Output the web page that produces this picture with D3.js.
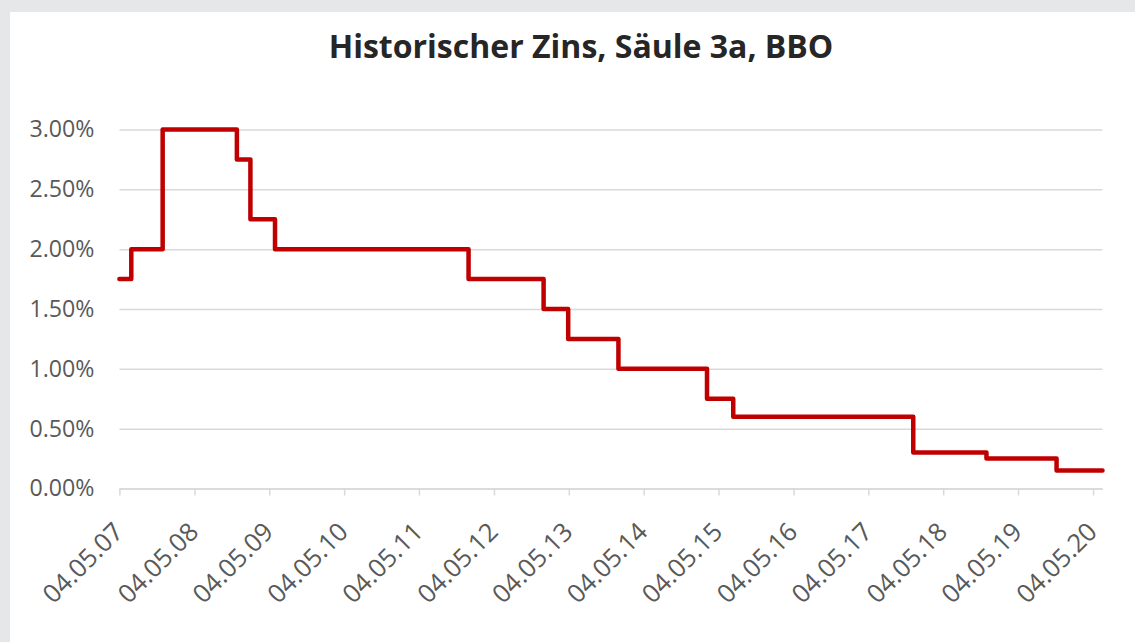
<!DOCTYPE html>
<html>
<head>
<meta charset="utf-8">
<script src="https://cdn.jsdelivr.net/npm/d3@7"></script>
<style>
  body { margin: 0; background: #e6e7e9; }
  svg { display: block; }
</style>
</head>
<body>
<svg id="chart" width="1135" height="642"></svg>
<script>
// dates where the rate changes (step after), last entry closes the line
var changeDates = [
  "2007-05-04", "2007-07-01", "2007-12-01", "2008-11-27", "2009-02-01",
  "2009-06-01", "2012-01-01", "2013-01-01", "2013-05-01", "2014-01-01",
  "2015-03-09", "2015-07-15", "2017-12-09", "2018-12-01", "2019-11-08",
  "2020-06-19"
];
// interest rate in percent
var rates = [
  1.75, 2.0, 3.0, 2.75, 2.25,
  2.0, 1.75, 1.5, 1.25, 1.0,
  0.75, 0.6, 0.3, 0.25, 0.15,
  0.15
];
// x axis tick dates (04.05. of each year)
var tickDates = [
  "2007-05-04", "2008-05-04", "2009-05-04", "2010-05-04", "2011-05-04",
  "2012-05-04", "2013-05-04", "2014-05-04", "2015-05-04", "2016-05-04",
  "2017-05-04", "2018-05-04", "2019-05-04", "2020-05-04"
];
var yTicks = [0, 0.5, 1, 1.5, 2, 2.5, 3];

var titleText = "Historischer Zins, Säule 3a, BBO";

function drawChart() {
  var parse = d3.timeParse("%Y-%m-%d");
  var data = changeDates.map(function (d, i) {
    return { date: parse(d), rate: rates[i] };
  });

  var svg = d3.select("#chart");
  var font = "'Open Sans', sans-serif";

  // white card
  svg.append("rect")
    .attr("x", 10)
    .attr("y", 12)
    .attr("width", 1125)
    .attr("height", 630)
    .attr("fill", "#ffffff");

  var plotLeft = 119.4, plotRight = 1102.5, plotTop = 129.5, plotBottom = 488.5;

  var xScale = d3.scaleTime()
    .domain([parse(changeDates[0]), parse(changeDates[changeDates.length - 1])])
    .range([plotLeft, plotRight]);

  var yScale = d3.scaleLinear()
    .domain([0, 3])
    .range([plotBottom, plotTop]);

  // title, size adjusted so it spans about the same width as the original
  var title = svg.append("text")
    .text(titleText)
    .attr("x", 581)
    .attr("y", 58)
    .attr("text-anchor", "middle")
    .attr("font-family", font)
    .attr("font-weight", "bold")
    .attr("font-size", "31px")
    .attr("fill", "#262626");
  var tw = title.node().getComputedTextLength();
  title.attr("font-size", (31 * 505 / tw).toFixed(2) + "px");

  // find label size: "0.00%" should be ~65px wide
  var probe = svg.append("text")
    .text("0.00%")
    .attr("font-family", font)
    .attr("font-size", "20px");
  var labelSize = 20 * 65 / probe.node().getComputedTextLength();
  probe.remove();

  // gridlines + y labels
  var yAxis = d3.axisLeft(yScale)
    .tickValues(yTicks)
    .tickSize(-(plotRight - plotLeft))
    .tickPadding(25)
    .tickFormat(function (d) { return d.toFixed(2) + "%"; });

  var gy = svg.append("g")
    .attr("transform", "translate(" + plotLeft + ",0)")
    .call(yAxis);
  gy.select(".domain").remove();
  gy.selectAll(".tick line")
    .attr("stroke", "#d9d9d9")
    .attr("stroke-width", 1.5);
  gy.selectAll(".tick text")
    .attr("font-family", font)
    .attr("font-size", labelSize + "px")
    .attr("fill", "#595959");

  // x axis
  var xAxis = d3.axisBottom(xScale)
    .tickValues(tickDates.map(parse))
    .tickSize(7)
    .tickSizeOuter(0)
    .tickFormat(d3.timeFormat("%d.%m.%y"));

  var gx = svg.append("g")
    .attr("transform", "translate(0," + plotBottom + ")")
    .call(xAxis);
  gx.select(".domain")
    .attr("stroke", "#d9d9d9")
    .attr("stroke-width", 1.5);
  gx.selectAll(".tick line")
    .attr("stroke", "#d9d9d9")
    .attr("stroke-width", 1.5);
  gx.selectAll(".tick text")
    .attr("font-family", font)
    .attr("font-size", (labelSize * 1.1) + "px")
    .attr("fill", "#595959")
    .attr("text-anchor", "end")
    .attr("dy", null)
    .attr("y", null)
    .attr("transform", "translate(5,45) rotate(-45)");

  // the rate as step line
  var line = d3.line()
    .x(function (d) { return xScale(d.date); })
    .y(function (d) { return yScale(d.rate); })
    .curve(d3.curveStepAfter);

  svg.append("path")
    .datum(data)
    .attr("d", line)
    .attr("fill", "none")
    .attr("stroke", "#c00000")
    .attr("stroke-width", 4.5)
    .attr("stroke-linejoin", "round")
    .attr("stroke-linecap", "round");
}

drawChart();
</script>
</body>
</html>
